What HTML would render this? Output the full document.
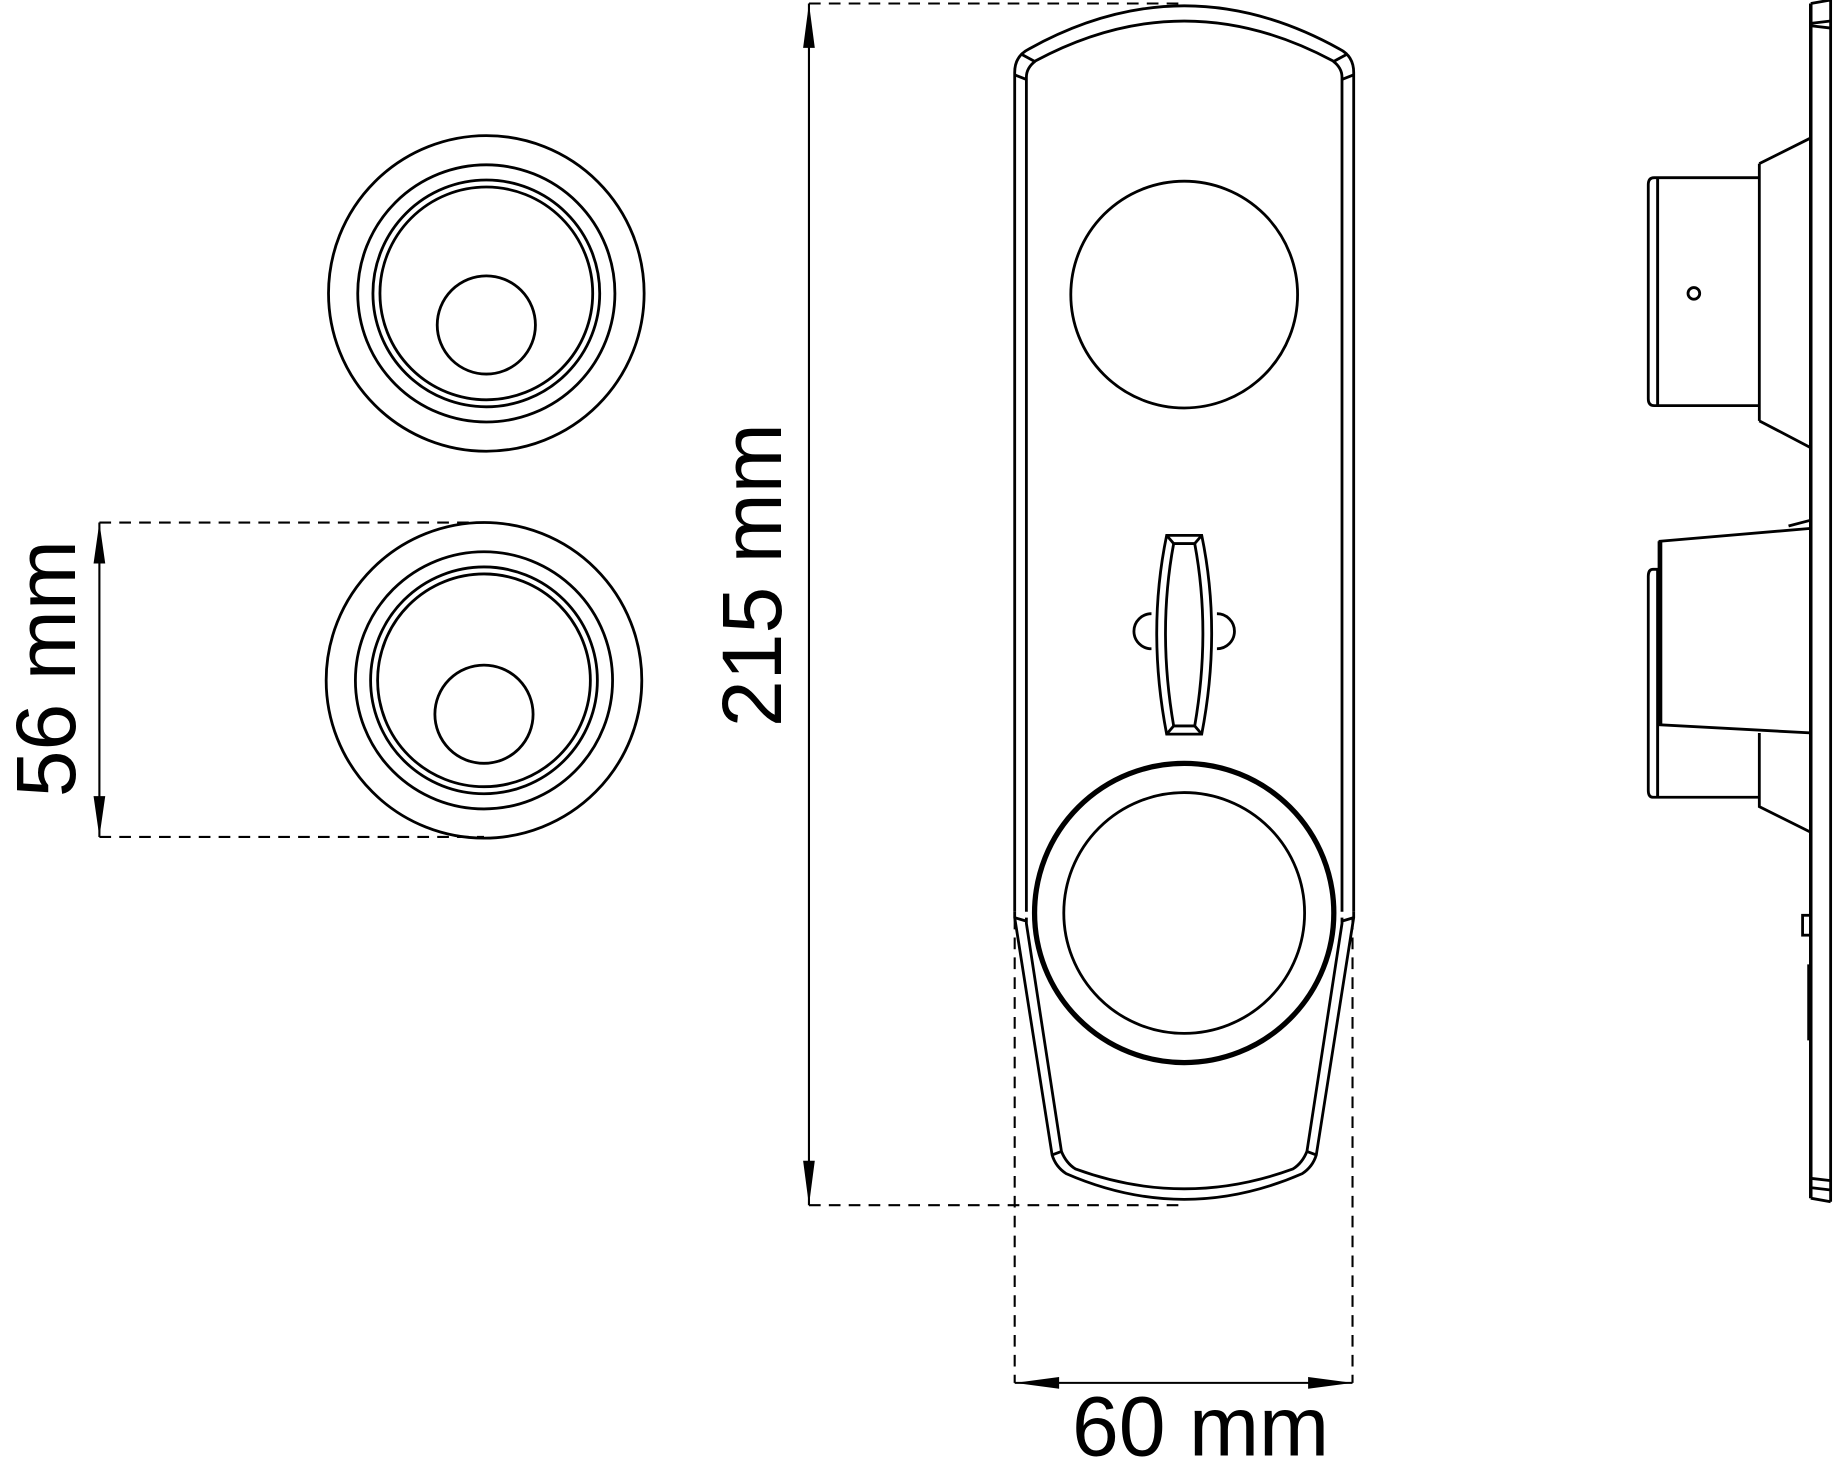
<!DOCTYPE html>
<html><head><style>html,body{margin:0;padding:0;background:#fff}svg{display:block}</style></head>
<body>
<svg width="1833" height="1484" viewBox="0 0 1568 1269.5" xmlns="http://www.w3.org/2000/svg" font-family="Liberation Sans, Arial, sans-serif">
<g fill="none" stroke="#000" stroke-width="2.4">
<circle cx="416" cy="251" r="135"/>
<circle cx="416" cy="251" r="110"/>
<circle cx="416" cy="251" r="97"/>
<circle cx="416" cy="251" r="91"/>
<circle cx="416" cy="278" r="42"/>
<circle cx="414" cy="582" r="135"/>
<circle cx="414" cy="582" r="110"/>
<circle cx="414" cy="582" r="97"/>
<circle cx="414" cy="582" r="91"/>
<circle cx="414" cy="611" r="42"/>
<g stroke-dasharray="10,7" stroke-width="1.8">
<line x1="85" y1="447" x2="414" y2="447"/>
<line x1="85" y1="716" x2="414" y2="716"/>
<line x1="692" y1="3" x2="1010" y2="3"/>
<line x1="692" y1="1031" x2="1010" y2="1031"/>
<line x1="868" y1="785" x2="868" y2="1183"/>
<line x1="1157" y1="785" x2="1157" y2="1183"/>
</g>
<line x1="85" y1="447" x2="85" y2="716" stroke-width="1.8"/>
<line x1="692" y1="3" x2="692" y2="1031" stroke-width="1.8"/>
<line x1="868" y1="1183" x2="1157" y2="1183" stroke-width="1.8"/>
<path d="M868 780 V62 Q868 48 880 42 Q1013 -32 1146 42 Q1158 48 1158 62 V780"/>
<path d="M878 780 V66 Q878 58 886 52 Q1013 -16 1140 52 Q1148 58 1148 66 V780"/>
<line x1="873" y1="46" x2="886" y2="53"/><line x1="1153" y1="46" x2="1140" y2="53"/>
<line x1="868" y1="64" x2="878" y2="68"/><line x1="1158" y1="64" x2="1148" y2="68"/>
<path d="M868 780 V785 L900 988 Q903 998 912 1004 Q1013 1048 1114 1004 Q1123 998 1126 988 L1158 785 V780"/>
<path d="M878 785 V790 L908 985 Q912 995 920 1000 Q1013 1034 1106 1000 Q1114 995 1118 985 L1148 790 V785"/>
<line x1="900" y1="988" x2="908" y2="985"/><line x1="1126" y1="988" x2="1118" y2="985"/>
<line x1="868" y1="785" x2="878" y2="788"/><line x1="1158" y1="785" x2="1148" y2="788"/>
<circle cx="1013" cy="252" r="97"/>
<circle cx="1013" cy="781" r="128" stroke-width="4.5"/>
<circle cx="1013" cy="781" r="103"/>
<path d="M985 525 A14 14 0 0 0 985 555"/><path d="M1041 525 A14 14 0 0 1 1041 555"/>
<path d="M998 458 H1028 Q1045 540 1028 628 H998 Q981 540 998 458 Z"/>
<path d="M1004 465 H1022 Q1036 540 1022 621 H1004 Q990 540 1004 465 Z"/>
<line x1="998" y1="458" x2="1004" y2="465"/><line x1="1028" y1="458" x2="1022" y2="465"/>
<line x1="998" y1="628" x2="1004" y2="621"/><line x1="1028" y1="628" x2="1022" y2="621"/>
<line x1="1549" y1="3" x2="1549" y2="1025" stroke-width="3"/>
<path d="M1549 3 L1566 0 M1549 1025 L1566 1028 M1566 0 V1028"/>
<line x1="1549" y1="20" x2="1566" y2="18"/><line x1="1549" y1="22" x2="1566" y2="24"/>
<line x1="1549" y1="1008" x2="1566" y2="1010"/><line x1="1549" y1="1016" x2="1566" y2="1018"/>
<path d="M1505 152 H1415 Q1410 152 1410 158 V341 Q1410 347 1415 347 H1505"/>
<line x1="1418" y1="152" x2="1418" y2="347" stroke-width="2.5"/>
<path d="M1505 140 V360 M1505 140 L1549 118 M1505 360 L1549 383"/>
<ellipse cx="1449" cy="251" rx="5" ry="5"/>
<path d="M1420 463 L1549 452 V627 L1420 620 Z"/>
<line x1="1420" y1="463" x2="1420" y2="620" stroke-width="4"/>
<path d="M1420 487 H1414 Q1410 487 1410 493 V676 Q1410 682 1414 682 H1505"/>
<line x1="1418" y1="487" x2="1418" y2="682" stroke-width="2.5"/>
<path d="M1505 627 V690 L1549 712"/>
<path d="M1549 445 L1530 450"/>
<rect x="1542" y="783" width="7" height="17"/>
<line x1="1548" y1="825" x2="1548" y2="890" stroke-width="4"/>
</g>
<g fill="#000">
<path d="M85 447 l-5 35 h10 z M85 716 l-5 -35 h10 z"/>
<path d="M692 3 l-5 38 h10 z M692 1031 l-5 -38 h10 z"/>
<path d="M868 1183 l38 -5 v10 z M1157 1183 l-38 -5 v10 z"/>
</g>
<g font-size="72" fill="#000" text-anchor="middle">
<text x="0" y="0" transform="translate(64 572) rotate(-90)">56 mm</text>
<text x="0" y="0" transform="translate(668 492) rotate(-90)">215 mm</text>
<text x="1027" y="1245">60 mm</text>
</g>
</svg>
</body></html>
